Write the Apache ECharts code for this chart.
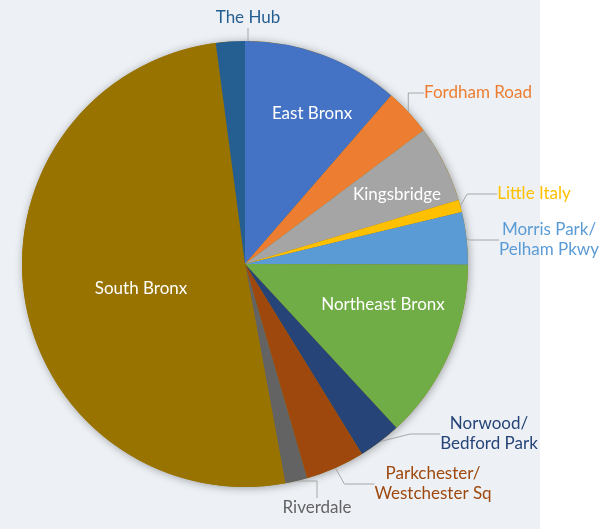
<!DOCTYPE html>
<html>
<head>
<meta charset="utf-8">
<script src="https://cdn.jsdelivr.net/npm/echarts@6/dist/echarts.min.js"></script>
<style>
  html, body { margin: 0; padding: 0; background: #ffffff; }
  #chart { width: 605px; height: 529px; }
</style>
</head>
<body>
<div id="chart"></div>
<script>
// Share of total by Bronx neighborhood (percent), clockwise from 12 o'clock
const neighborhoods = [
  'East Bronx', 'Fordham Road', 'Kingsbridge', 'Little Italy',
  'Morris Park/\nPelham Pkwy', 'Northeast Bronx', 'Norwood/\nBedford Park',
  'Parkchester/\nWestchester Sq', 'Riverdale', 'South Bronx', 'The Hub'
];
const shares = [11.4, 3.4, 5.6, 0.9, 3.8, 13.1, 3.1, 4.3, 1.6, 50.9, 2.1];
const sliceColors = [
  '#4472C4', '#ED7D31', '#A5A5A5', '#FFC000', '#5B9BD5', '#70AD47',
  '#264478', '#9E480E', '#636363', '#997300', '#255E91'
];
// Slices whose names sit on the slice itself (white text)
const insideLabels = ['East Bronx', 'Kingsbridge', 'Northeast Bronx', 'South Bronx'];

// Label anchor points (centre of each text block)
const labelSpots = [
  [312, 114], [478, 93], [397, 195], [534, 194], [549, 240],
  [383, 305], [489, 434], [433, 484], [317, 508], [141, 289], [248, 18]
];

const FONT = 'Lato';
const CENTER = [245, 264];
const RADIUS = 223;

const data = neighborhoods.map((name, i) => {
  const inside = insideLabels.includes(name);
  return {
    name: name,
    value: shares[i],
    itemStyle: { color: sliceColors[i] },
    label: {
      position: inside ? 'inside' : 'outside',
      color: inside ? '#ffffff' : sliceColors[i]
    },
    labelLine: { show: !inside }
  };
});

const chart = echarts.init(document.getElementById('chart'), null, { renderer: 'canvas' });
chart.setOption({
  backgroundColor: '#ffffff',
  animation: false,
  graphic: [{
    type: 'rect',
    z: -10,
    shape: { x: 0, y: 0, width: 540, height: 529 },
    style: { fill: '#EDF1F5' }
  }],
  series: [
    {
      // soft drop shadow beneath the pie
      type: 'pie',
      silent: true,
      z: 1,
      center: CENTER,
      radius: RADIUS,
      label: { show: false },
      labelLine: { show: false },
      data: [{ value: 1, itemStyle: { color: '#997300', shadowBlur: 8, shadowColor: 'rgba(0,0,0,0.35)', shadowOffsetX: 1, shadowOffsetY: 1 } }]
    },
    {
      type: 'pie',
      z: 2,
      center: CENTER,
      radius: RADIUS,
      startAngle: 90,
      clockwise: true,
      avoidLabelOverlap: false,
      label: {
        show: true,
        formatter: '{b}',
        fontFamily: FONT,
        fontSize: 17,
        lineHeight: 20,
        align: 'center'
      },
      labelLine: {
        show: true,
        lineStyle: { color: '#A6A6A6', width: 1 }
      },
      labelLayout: function (p) {
        const s = labelSpots[p.dataIndex];
        return { x: s[0], y: s[1], align: 'center', verticalAlign: 'middle' };
      },
      itemStyle: { borderWidth: 0 },
      emphasis: { disabled: true },
      data: data
    }
  ]
});
</script>
</body>
</html>
